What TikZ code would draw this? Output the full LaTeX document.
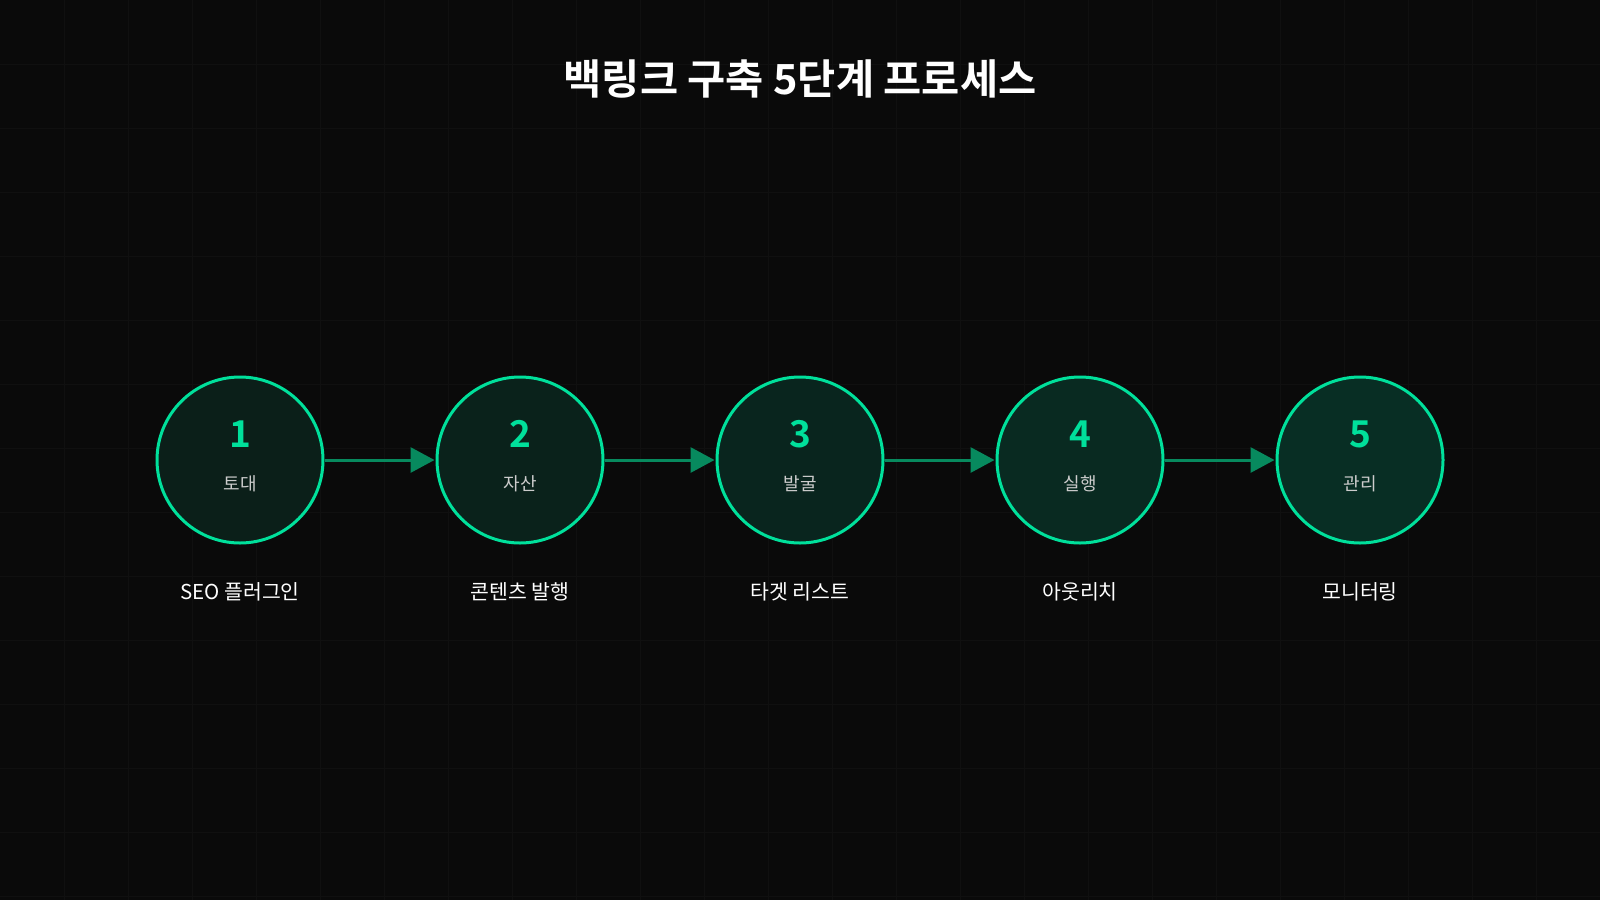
\documentclass[tikz,border=0pt]{standalone}
\usepackage{fontspec}
\setmainfont{Noto Sans CJK KR}[BoldFont={Noto Sans CJK KR Bold}]
\usetikzlibrary{arrows.meta}
\definecolor{bg}{HTML}{0A0A0A}
\definecolor{gridc}{HTML}{101010}
\definecolor{accent}{HTML}{00E09B}
\definecolor{arrowc}{HTML}{078A5E}
\definecolor{sublbl}{HTML}{CCCCCC}
\definecolor{fillA}{HTML}{0B1F19}
\definecolor{fillB}{HTML}{0A221B}
\definecolor{fillC}{HTML}{09251E}
\definecolor{fillD}{HTML}{092A21}
\definecolor{fillE}{HTML}{082E24}
\tikzset{
  stepcircle/.style={circle, draw=accent, line width=3pt, minimum size=166pt, inner sep=0pt},
  stepnum/.style={text=accent, font=\bfseries\fontsize{37}{40}\selectfont, inner sep=0pt, anchor=center},
  steplbl/.style={text=sublbl, font=\fontsize{18}{22}\selectfont, inner sep=0pt},
  bottomlbl/.style={text=white, font=\fontsize{20.5}{24}\selectfont, inner sep=0pt},
  flowarrow/.style={draw=arrowc, line width=3pt, -{Triangle[length=24pt,width=25pt]}, shorten >=1pt},
  titletext/.style={text=white, font=\bfseries\fontsize{41.5}{46}\selectfont, inner sep=0pt}
}
\begin{document}
\begin{tikzpicture}[x=1pt,y=-1pt]
\fill[bg] (0,0) rectangle (1600,900);
\useasboundingbox (0,0) rectangle (1600,900);
\foreach \i in {1,...,24} { \draw[gridc, line width=1pt] (\i*64,0) -- (\i*64,900); }
\foreach \j in {1,...,14} { \draw[gridc, line width=1pt] (0,\j*64) -- (1600,\j*64); }
\node[titletext] (title) at (800,79) {백링크 구축 5단계 프로세스};
\node[stepcircle, fill=fillA] (c1) at (240,460) {};
\node[stepcircle, fill=fillB] (c2) at (520,460) {};
\node[stepcircle, fill=fillC] (c3) at (800,460) {};
\node[stepcircle, fill=fillD] (c4) at (1080,460) {};
\node[stepcircle, fill=fillE] (c5) at (1360,460) {};
\node[stepnum] (n1) at (240,434) {1};
\node[stepnum] (n2) at (520,434) {2};
\node[stepnum] (n3) at (800,434) {3};
\node[stepnum] (n4) at (1080,434) {4};
\node[stepnum] (n5) at (1360,434) {5};
\node[steplbl] (l1) at (240,484) {토대};
\node[steplbl] (l2) at (520,484) {자산};
\node[steplbl] (l3) at (800,484) {발굴};
\node[steplbl] (l4) at (1080,484) {실행};
\node[steplbl] (l5) at (1360,484) {관리};
\node[bottomlbl] (b1) at (240,592) {SEO 플러그인};
\node[bottomlbl] (b2) at (520,592) {콘텐츠 발행};
\node[bottomlbl] (b3) at (800,592) {타겟 리스트};
\node[bottomlbl] (b4) at (1080,592) {아웃리치};
\node[bottomlbl] (b5) at (1360,592) {모니터링};
\draw[flowarrow] (c1) -- (c2);
\draw[flowarrow] (c2) -- (c3);
\draw[flowarrow] (c3) -- (c4);
\draw[flowarrow] (c4) -- (c5);
\end{tikzpicture}
\end{document}
